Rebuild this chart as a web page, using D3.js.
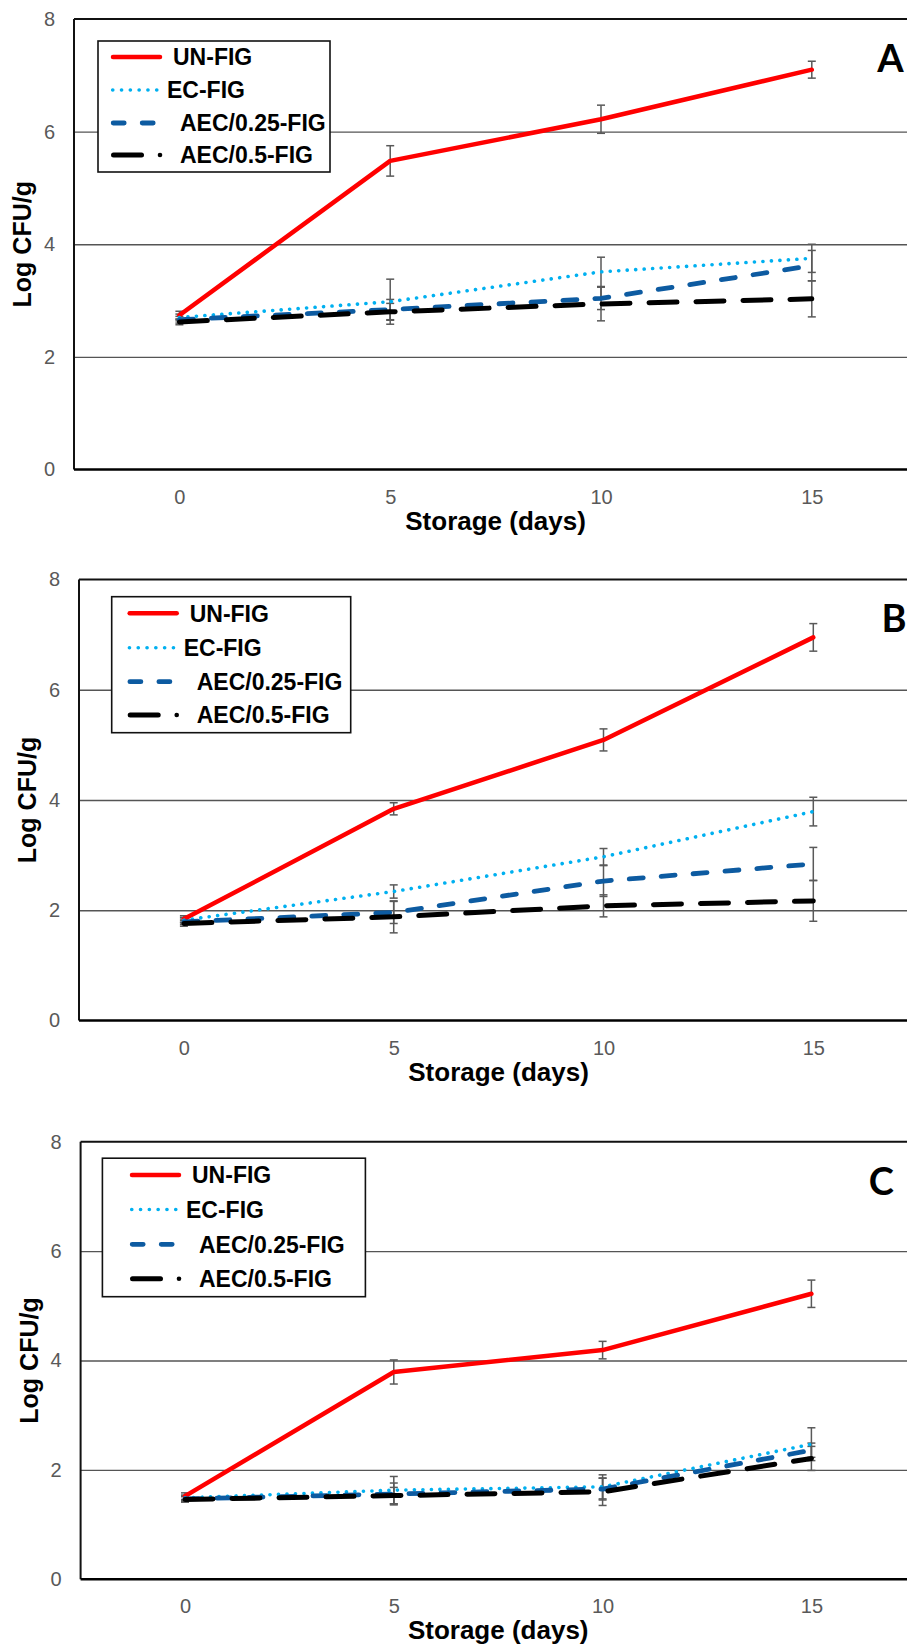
<!DOCTYPE html>
<html>
<head>
<meta charset="utf-8">
<script src="https://cdn.jsdelivr.net/npm/d3@7"></script>
<style>
  body { margin: 0; background: #fff; }
  svg { display: block; font-family: "Liberation Sans", Arial, sans-serif; }
</style>
</head>
<body>
<div id="chart"></div>
<script>
//Global data: storage days and series
var days = [0, 5, 10, 15];
var y_ticks = [0, 2, 4, 6, 8];
var grid_ticks = [2, 4, 6];
var series_names = ["UN-FIG", "EC-FIG", "AEC/0.25-FIG", "AEC/0.5-FIG"];
var panel_letters = ["A", "B", "C"];

//Panel A values (Log CFU/g) and error bars
var a_un = [2.74, 5.48, 6.22, 7.10];
var a_un_err = [0.07, 0.27, 0.25, 0.15];
var a_ec = [2.70, 2.98, 3.51, 3.75];
var a_ec_err = [0.06, 0.40, 0.26, 0.25];
var a_aec25 = [2.66, 2.84, 3.04, 3.62];
var a_aec25_err = [0.06, 0.18, 0.20, 0.27];
var a_aec5 = [2.62, 2.80, 2.94, 3.03];
var a_aec5_err = [0.05, 0.15, 0.30, 0.32];

//Panel B
var b_un = [1.84, 3.84, 5.09, 6.95];
var b_un_err = [0.06, 0.11, 0.20, 0.25];
var b_ec = [1.82, 2.34, 2.97, 3.79];
var b_ec_err = [0.05, 0.12, 0.15, 0.26];
var b_aec25 = [1.79, 1.96, 2.53, 2.84];
var b_aec25_err = [0.05, 0.20, 0.28, 0.30];
var b_aec5 = [1.76, 1.88, 2.08, 2.17];
var b_aec5_err = [0.05, 0.29, 0.20, 0.37];

//Panel C
var c_un = [1.52, 3.79, 4.19, 5.22];
var c_un_err = [0.06, 0.22, 0.16, 0.25];
var c_ec = [1.49, 1.63, 1.69, 2.47];
var c_ec_err = [0.05, 0.25, 0.22, 0.30];
var c_aec25 = [1.47, 1.56, 1.65, 2.36];
var c_aec25_err = [0.05, 0.20, 0.20, 0.13];
var c_aec5 = [1.46, 1.53, 1.60, 2.21];
var c_aec5_err = [0.05, 0.15, 0.25, 0.22];

var panel_values = [
    [a_un, a_ec, a_aec25, a_aec5],
    [b_un, b_ec, b_aec25, b_aec5],
    [c_un, c_ec, c_aec25, c_aec5]
];
var panel_errors = [
    [a_un_err, a_ec_err, a_aec25_err, a_aec5_err],
    [b_un_err, b_ec_err, b_aec25_err, b_aec5_err],
    [c_un_err, c_ec_err, c_aec25_err, c_aec5_err]
];

//Line styles for the 4 series
var styles = [
    {color: "#ff0000", width: 4.5, dash: null, cap: "round"},
    {color: "#00b0f0", width: 3.6, dash: "0.1 8.4", cap: "round"},
    {color: "#0d5ba1", width: 4.8, dash: "14 18", cap: "round"},
    {color: "#000000", width: 5, dash: "28 19", cap: "round"}
];

//Layout of each panel (pixels)
var layouts = [
    {left: 74, right: 917.2, top: 19, bottom: 469.5,
     legend: {x: 98, y: 41, w: 232, h: 131, sx: 111, rows: [57, 90, 123, 155]},
     letter: {x: 890.5, y: 72}},
    {left: 79, right: 918.2, top: 579.5, bottom: 1020.5,
     legend: {x: 111.7, y: 596.7, w: 239, h: 136, sx: 127.7, rows: [613.3, 647.7, 681.7, 715]},
     letter: {x: 894, y: 631.7}},
    {left: 80.6, right: 915.8, top: 1141.7, bottom: 1579.3,
     legend: {x: 102.4, y: 1158.2, w: 263, h: 138.5, sx: 130, rows: [1175, 1209.5, 1244.3, 1278.8]},
     letter: {x: 881.4, y: 1195}}
];

var svg = d3.select("#chart")
  .append("svg")
  .attr("width", 907)
  .attr("height", 1650);

svg.append("rect")
    .attr("width", 907)
    .attr("height", 1650)
    .attr("fill", "white");

// Function to draw one panel
function drawPanel(p) {
    var lay = layouts[p];
    var g = svg.append("g");

    var x = d3.scaleLinear().domain([-2.5, 17.5]).range([lay.left, lay.right]);
    var y = d3.scaleLinear().domain([0, 8]).range([lay.bottom, lay.top]);

    // grid lines
    g.append("g")
        .attr("transform", "translate(" + lay.left + ",0)")
        .call(d3.axisLeft(y).tickValues(grid_ticks).tickSize(-(lay.right - lay.left)).tickFormat(""))
        .call(function (s) { s.select(".domain").remove(); })
        .selectAll("line")
        .attr("stroke", "#555")
        .attr("stroke-width", 1.3);

    // y axis labels
    g.append("g")
        .attr("transform", "translate(" + lay.left + ",0)")
        .call(d3.axisLeft(y).tickValues(y_ticks).tickSize(0).tickPadding(19))
        .call(function (s) { s.select(".domain").remove(); })
        .selectAll("text")
        .attr("fill", "#595959")
        .style("font-size", "20px")
        .style("font-family", "'Liberation Sans', Arial, sans-serif");

    // x axis labels
    g.append("g")
        .attr("transform", "translate(0," + lay.bottom + ")")
        .call(d3.axisBottom(x).tickValues(days).tickSize(0).tickPadding(20))
        .call(function (s) { s.select(".domain").remove(); })
        .selectAll("text")
        .attr("fill", "#595959")
        .style("font-size", "20px")
        .style("font-family", "'Liberation Sans', Arial, sans-serif");

    // error bars
    for (var s = 0; s < 4; s++) {
        var vals = panel_values[p][s];
        var errs = panel_errors[p][s];
        days.forEach(function (d, i) {
            var x0 = x(d);
            var y1 = y(vals[i] + errs[i]);
            var y2 = y(vals[i] - errs[i]);
            var eb = g.append("g")
                .attr("stroke", "#595959")
                .attr("stroke-width", 1.5);
            eb.append("line").attr("x1", x0).attr("x2", x0).attr("y1", y1).attr("y2", y2);
            eb.append("line").attr("x1", x0 - 4).attr("x2", x0 + 4).attr("y1", y1).attr("y2", y1);
            eb.append("line").attr("x1", x0 - 4).attr("x2", x0 + 4).attr("y1", y2).attr("y2", y2);
        });
    }

    // series lines
    var line = d3.line()
        .x(function (d) { return x(d[0]); })
        .y(function (d) { return y(d[1]); });

    for (var s = 0; s < 4; s++) {
        var pts = days.map(function (d, i) { return [d, panel_values[p][s][i]]; });
        var st = styles[s];
        g.append("path")
            .attr("d", line(pts))
            .attr("fill", "none")
            .attr("stroke", st.color)
            .attr("stroke-width", st.width)
            .attr("stroke-linecap", st.cap)
            .attr("stroke-linejoin", "round")
            .attr("stroke-dasharray", st.dash);
    }

    // plot border: top, left and bottom axis
    g.append("line")
        .attr("x1", x(-2.5)).attr("x2", x(17.5))
        .attr("y1", y(8)).attr("y2", y(8))
        .attr("stroke", "#111").attr("stroke-width", 2);
    g.append("line")
        .attr("x1", x(-2.5)).attr("x2", x(-2.5))
        .attr("y1", y(8)).attr("y2", y(0))
        .attr("stroke", "#111").attr("stroke-width", 2);
    g.append("line")
        .attr("x1", x(-2.5)).attr("x2", x(17.5))
        .attr("y1", y(0)).attr("y2", y(0))
        .attr("stroke", "#000").attr("stroke-width", 2.6);

    // axis titles
    g.append("text")
        .attr("x", (lay.left + lay.right) / 2)
        .attr("y", lay.bottom + 60)
        .attr("text-anchor", "middle")
        .style("font-size", "26px")
        .style("font-weight", "bold")
        .text("Storage (days)");

    g.append("text")
        .attr("transform", "translate(" + (lay.left - 43) + "," + ((lay.top + lay.bottom) / 2) + ") rotate(-90)")
        .attr("text-anchor", "middle")
        .style("font-size", "25px")
        .style("font-weight", "bold")
        .text("Log CFU/g");

    // legend
    var lg = lay.legend;
    g.append("rect")
        .attr("x", lg.x).attr("y", lg.y)
        .attr("width", lg.w).attr("height", lg.h)
        .attr("fill", "white")
        .attr("stroke", "#111")
        .attr("stroke-width", 1.6);

    var sx = lg.sx;
    // UN-FIG sample
    g.append("line")
        .attr("x1", sx + 2).attr("x2", sx + 49)
        .attr("y1", lg.rows[0]).attr("y2", lg.rows[0])
        .attr("stroke", styles[0].color).attr("stroke-width", 4.5).attr("stroke-linecap", "round");
    // EC-FIG sample
    g.append("line")
        .attr("x1", sx + 1.7).attr("x2", sx + 46)
        .attr("y1", lg.rows[1]).attr("y2", lg.rows[1])
        .attr("stroke", styles[1].color).attr("stroke-width", 3.6)
        .attr("stroke-linecap", "round").attr("stroke-dasharray", "0.1 8.7");
    // AEC/0.25-FIG sample
    g.append("line")
        .attr("x1", sx + 2.2).attr("x2", sx + 44)
        .attr("y1", lg.rows[2]).attr("y2", lg.rows[2])
        .attr("stroke", styles[2].color).attr("stroke-width", 4.8)
        .attr("stroke-linecap", "round").attr("stroke-dasharray", "11 18");
    // AEC/0.5-FIG sample: long dash + dot
    g.append("line")
        .attr("x1", sx + 2.5).attr("x2", sx + 30.5)
        .attr("y1", lg.rows[3]).attr("y2", lg.rows[3])
        .attr("stroke", styles[3].color).attr("stroke-width", 5).attr("stroke-linecap", "round");
    g.append("circle")
        .attr("cx", sx + 49).attr("cy", lg.rows[3]).attr("r", 2.3)
        .attr("fill", styles[3].color);

    var text_off = [62, 56, 69, 69];
    series_names.forEach(function (n, i) {
        g.append("text")
            .attr("x", sx + text_off[i])
            .attr("y", lg.rows[i] + 8.2)
            .style("font-size", "23px")
            .style("font-weight", "bold")
            .text(n);
    });

    // panel letter
    g.append("text")
        .attr("x", lay.letter.x)
        .attr("y", lay.letter.y)
        .attr("text-anchor", "middle")
        .style("font-family", "Lato, 'Open Sans', sans-serif")
        .style("font-size", "38px")
        .style("font-weight", "bold")
        .text(panel_letters[p]);
}

for (var p = 0; p < 3; p++) {
    drawPanel(p);
}
</script>
</body>
</html>
